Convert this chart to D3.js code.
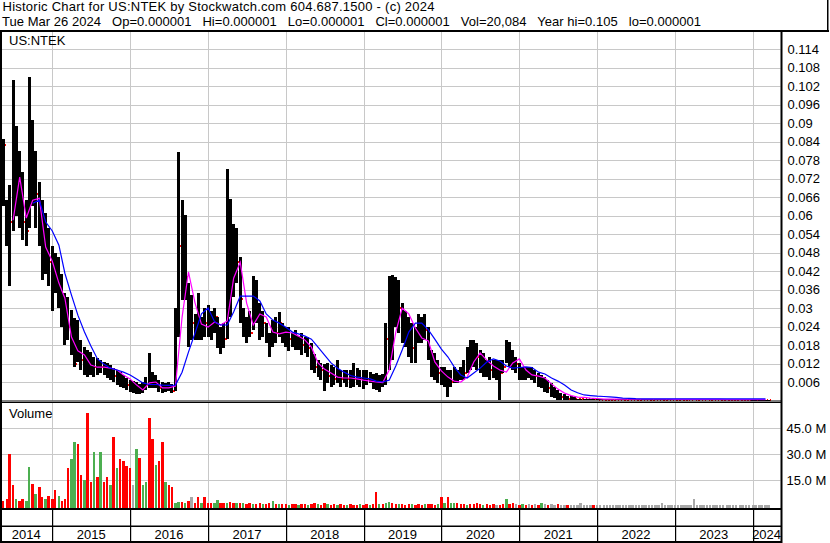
<!DOCTYPE html>
<html><head><meta charset="utf-8">
<script src="https://cdn.jsdelivr.net/npm/d3@7"></script>
<style>
body{margin:0;background:#fff}
svg{display:block}
text{font-family:Arial,"Liberation Sans",sans-serif;font-size:13px;fill:#000}
</style>
</head><body>
<svg id="chart" width="830" height="543"></svg>
<script>
// ---------- DATA (prices in thousandths of a dollar, volume in millions) ----------
const headerLine1 = "Historic Chart for US:NTEK by Stockwatch.com 604.687.1500 - (c) 2024";
const headerLine2 = "Tue Mar 26 2024   Op=0.000001   Hi=0.000001   Lo=0.000001   Cl=0.000001   Vol=20,084   Year hi=0.105   lo=0.000001";
const symbolLabel = "US:NTEK";
const volumeLabel = "Volume";

// semi-monthly bars starting 15 May 2014 (15th, 1st, 15th, ...)
const highs = [85,65,70,104,89,81,74,65,105,91,
81,71,65,61,56,50,48,46.5,41,35,
33.6,29.3,26.8,26.1,19.6,17.3,16.4,15.7,14.1,13.8,
13.1,12.5,12.2,11.5,10.5,9.9,9.2,8.3,7.3,6.6,
6.3,6.0,5.4,6.0,7.6,15.4,9.2,8.3,6.6,6.0,
5.7,6.0,5.4,30,80.6,65,60.2,38.1,34.2,28,
34.9,27,30,31,29,30,27,24,25,75,
65.3,57.3,56,46.5,30,27,29,40.4,39.1,31.6,
29,25,22,26,27,28.7,25,24,24,22,
22.9,21,22,20.6,20.6,18.6,15,13.1,12.2,12,
12.2,11.5,11,13,9.9,9.9,10,9.9,12.2,10.5,
9.9,9.9,9.9,9.2,8.6,8.9,8.3,8.6,25,40.4,
40.7,40,39,31.6,29,27,25,24,28,27,
28,24,16.4,15.4,13.1,10.9,10.9,9.9,9.9,10.9,
9.9,10.9,13.1,17.3,19.6,19.6,18.6,16.4,15.4,13.1,
14.1,13.1,13.1,13,13.1,19.6,19,16.4,14.1,12.2,
10.9,10.9,10.9,10.9,9.9,8.9,8.3,7.6,6.6,5.7,
4.4,3.4,2.4,2.0,1.6,1.3,1.0,0.6,0.6,0.6,
0.6,0.6,0.6,0.4,0.4,0.4,0.4,0.4,0.4,0.4,
0.4,0.4,0.4,0.4,0.4,0.4,0.4,0.4,0.4,0.4,
0.4,0.4,0.4,0.4,0.4,0.4,0.4,0.35,0.35,0.35,
0.35,0.35,0.35,0.35,0.35,0.35,0.35,0.35,0.35,0.35,
0.35,0.35,0.35,0.35,0.35,0.35,0.35,0.35,0.35,0.35,
0.35,0.3,0.3,0.3,0.3,0.3,0.3];

const lows = [63,50,37,55,60,56,52,50,56,63,
56,50,39,41,37,29,35,30,24,18,
19.6,14.8,10.8,12.5,9.9,8.3,7.6,8.3,7.6,8.3,
8.9,8.3,7.3,6.6,6.0,5.0,4.4,4.1,3.4,2.8,
2.4,2.1,2.1,2.4,3.4,4.1,4.1,4.1,2.8,2.4,
2.8,3.1,2.4,3,20.6,32.6,32.6,17.3,19.6,19.6,
19.6,19.6,20.6,20.6,19.6,22,17,15,17,20,
27,33.5,38,25,20.6,18.6,20.6,22.9,25.1,19.6,
20.6,18.6,14.1,17.3,18.6,20.6,18.6,17.3,16,17.3,
16.4,16.4,14.8,15.4,14.1,9.9,8.9,7.6,6.6,3,
5.7,4.4,5,5.7,4.4,5.7,4.4,4,4.4,5,
4.4,3.7,5,5.7,3.7,3.4,2.8,4.4,5,9.9,
13,24,22,18.6,17.3,14,12.2,12.2,18.6,18.6,
19.6,13.1,7.6,6.6,5.7,5,4.4,1.1,4.4,5.7,
5.7,6.6,6.6,8.9,9.9,10.9,9.9,8.9,7.6,7.6,
6.6,7.3,6.6,0.3,8.9,12.2,10.9,9.9,8.9,6.6,
6.6,6.6,7.3,6.6,5.7,4.4,4.1,2.8,2.4,1.1,
0.8,0.3,0.3,0.3,0.3,0.3,0.2,0.2,0.2,0.2,
0.2,0.2,0.2,0.15,0.15,0.15,0.15,0.15,0.15,0.15,
0.15,0.15,0.15,0.15,0.15,0.15,0.15,0.15,0.15,0.15,
0.15,0.15,0.15,0.15,0.15,0.15,0.15,0.1,0.1,0.1,
0.1,0.1,0.1,0.1,0.1,0.1,0.1,0.1,0.1,0.1,
0.1,0.1,0.1,0.1,0.1,0.1,0.1,0.1,0.1,0.1,
0.1,0.05,0.05,0.05,0.05,0.05,0.05];

const closes = [83,55,58,72,70,65,58,55,72,75,
67,57,48,50,45,40,38,36,30,24,
24,18,12,16,13,10,11,12,11,11,
11,10,10,9,8,7,6,6,5,4,
4,3,3,4,5,8,6,6,4,3,
4,4,3,25,50,55,40,28,25,24,
24,24,25,24,24,27,22,20,20,30,
45,40,45,33,24,21,22,30,30,25,
25,21,19,22,22,25,22,20,20,19,
19,18,18,18,17,12,11,10,10,8,
8,8,7,8,7,7,7,6,7,7,
7,6,7,7,6,5,5,6,20,30,
30,33,30,28,25,22,17,20,22,22,
23,16,11,10,9,7,7,5,6,8,
8,8,9,13,16,16,14,13,12,11,
10,9,10,9,11,16,15,13,12,10,
9,9,9,9,8,7,6,5,4,3,
2,1,1,0.8,0.6,0.5,0.4,0.4,0.4,0.4,
0.4,0.4,0.4,0.3,0.3,0.3,0.3,0.3,0.3,0.3,
0.3,0.3,0.3,0.3,0.3,0.3,0.3,0.3,0.3,0.3,
0.3,0.3,0.3,0.3,0.3,0.3,0.3,0.25,0.25,0.25,
0.25,0.25,0.25,0.25,0.25,0.25,0.25,0.25,0.25,0.25,
0.25,0.25,0.25,0.25,0.25,0.25,0.25,0.25,0.25,0.25,
0.25,0.2,0.2,0.2,0.2,0.2,0.2];

const volumes = [3,4,30,12,4,3,4,3,22.6,13,
7,11,5,4,6,4,9,6,3,4,
22,27,37,36,18,15,54,14,31,17,
31,14,17,12,40,22,27,26,23,22,
12,33,28,12,14,51,39,24,26,37,
14,12,11,2,2.5,2.5,2,3,5.5,2,
5,2,5.5,1.5,2,1.5,3.5,1.5,2,2,
2.5,2,1.5,2,1.5,1.2,1.5,1.2,1,1.5,
1.2,1,1.5,2.7,1.2,1,1.2,1,0.8,1,
1.2,0.8,1,1.2,0.8,1,1.5,1,0.8,2,
1,0.8,1,0.8,1,0.8,0.8,1,0.8,0.8,
1,0.8,1,0.8,1,8.3,1,1.2,1.5,2.5,
1.5,1,1.2,1,0.8,1,1.2,0.8,1,0.8,
1,1.2,1,0.8,1.2,5.4,1.5,5,2,2,
1.5,1,1,0.8,1.2,1,1.5,1,0.8,1,
0.8,1,0.8,0.8,1,4,1,1.5,1,0.8,
1,0.8,1,0.8,1.2,0.8,2,1,0.8,1,
0.8,1,0.8,0.6,0.8,0.6,0.8,0.6,1.5,0.6,
0.5,0.6,0.5,0.6,0.5,0.6,0.5,0.6,0.5,0.6,
0.5,0.6,0.5,0.6,0.5,0.6,0.5,0.6,0.5,0.6,
0.5,0.6,0.5,1.5,0.5,0.6,0.5,0.6,0.5,0.6,
0.5,0.6,0.5,4,0.5,0.6,0.5,0.6,0.5,0.6,
0.5,0.6,0.5,0.6,0.5,0.6,0.5,0.6,0.5,0.6,
0.5,0.6,0.5,0.6,0.5,0.6,0.5];

// r = down (red), g = up (green), n = unchanged (grey)
const volumeDirections = ("rrrrgrrggr"+"grrgrrrgrr"+"rggrrgrrgr"+"grrgrgrrrr"+"ngrggrrgrr"+
"grrggrgrnr"+"rgrrrggrrg"+"rrgrgrrgrr"+"grrgrgrrgr"+"rgrrgrrgrr"+
"grrgrrgrrr"+"grrgrrgrgg"+"rrgrrrgrrr"+"grrrgrgrgg"+"rrrgrrrrgr"+
"rrnrrgrrnr"+"grnrnrgnrn"+"nrnnrnnnnn"+"nnrnnnnnnn"+"nnnnnnnnnn"+
"nnnnnnnnnn"+"nnnnnnnnnn"+"nnnnnnnnnn"+"nnnnnnn").split("");

// moving averages, monthly points starting 1 Jun 2014
const maShort = [null,58.5,72.5,59.2,65.0,65.6,49.8,45.2,38.1,33.2,
20.6,16.1,14.8,11.5,10.8,10.8,10.5,9.9,8.3,7.0,
5.0,3.4,5.7,6.0,4.1,4.1,4.7,27,41.7,31.6,
24.8,23.8,25.5,24.5,25.8,39.7,44.9,31.6,24.5,28.1,
27.1,22.2,21.6,22.2,21.9,20.9,19.6,17.3,12.2,10.2,
8.9,7.6,7.3,7.3,7.0,6.6,6.3,6.0,5.8,9.9,
22.2,30.0,28.1,23.5,20.3,19.3,12.5,9.6,7.6,6.3,
6.0,7.6,12.5,15.4,13.1,11.2,9.9,9.2,12.2,13.5,
9.9,8.3,7.9,7.3,5.4,3.7,2.4,1.6,1.1,1.0,
0.8,0.65,0.45,0.45,0.45,0.45,0.4,0.4,0.4,0.4,
0.4,0.4,0.4,0.35,0.35,0.35,0.35,0.35,0.35,0.35,
0.35,0.3,0.3,0.3,0.3,0.3,0.3,0.3];

const maLong = [null,null,null,null,64.0,65,57.9,55.0,50.4,41.3,
34.2,27.7,22.2,17.7,13.5,11.8,10.5,9.9,9.2,8.3,
7.0,5.7,5.2,5.2,5.0,4.9,5.0,9.2,15.7,21.9,
28.1,30.0,25.5,24.5,24.5,28.7,33.9,33.9,33.9,32.3,
28.1,26.1,25.1,23.8,22.2,21.6,20.9,19.9,17.3,14.8,
12.2,10.5,9.2,8.1,7.6,7.3,7.0,6.3,6.0,6.6,
11.2,16.4,22.2,25.1,25.1,22.9,19.9,16.7,14.1,10.9,
8.3,7.3,8.9,10.5,12.5,13.5,12.8,11.2,10.5,10.7,
10.9,10.7,9.2,8.6,7.3,6.3,5.0,3.4,2.5,1.8,
1.6,1.4,1.3,1.2,1.0,0.8,0.7,0.6,0.55,0.5,
0.5,0.5,0.5,0.5,0.5,0.5,0.5,0.5,0.5,0.5,
0.5,0.5,0.5,0.5,0.5,0.5,0.5,0.5];

const priceTickValues = [6,12,18,24,30,36,42,48,54,60,66,72,78,84,90,96,102,108,114];
const priceTickLabels = ["0.006","0.012","0.018","0.024","0.03","0.036","0.042","0.048","0.054","0.06","0.066","0.072","0.078","0.084","0.09","0.096","0.102","0.108","0.114"];
const volumeTickValues = [15,30,45];
const volumeTickLabels = ["15.0 M","30.0 M","45.0 M"];
const yearLabels = ["2014","2015","2016","2017","2018","2019","2020","2021","2022","2023","2024"];

// ---------- LAYOUT ----------
const W = 830, H = 543;
const plotL = 2, plotR = 780.5;
const priceTop = 32, priceZero = 400.5;
const volTop = 403, volBottom = 508;

const priceDates = highs.map((_, i) => i % 2 === 0 ? new Date(2014, 4 + i / 2, 15) : new Date(2014, 4 + (i + 1) / 2, 1));
const maDates = maShort.map((_, m) => new Date(2014, 5 + m, 1));
const yearStarts = yearLabels.map(y => new Date(+y, 0, 1));

const x = d3.scaleTime().domain([new Date(2015, 0, 1), new Date(2024, 0, 1)]).range([52.3, 752.7]);
const yP = d3.scaleLinear().domain([0, 114]).range([priceZero, 49.2]);
const yV = d3.scaleLinear().domain([0, 15]).range([506, 480.1]);

const svg = d3.select("#chart");
svg.append("rect").attr("width", W).attr("height", H).attr("fill", "#fff");

const grid = "#c8c8c8";
svg.append("g").selectAll("line").data(priceTickValues).join("line")
  .attr("x1", plotL).attr("x2", plotR).attr("y1", d => Math.round(yP(d)) + 0.5).attr("y2", d => Math.round(yP(d)) + 0.5)
  .attr("stroke", grid).attr("stroke-width", 1);
svg.append("g").selectAll("line").data(volumeTickValues).join("line")
  .attr("x1", plotL).attr("x2", plotR).attr("y1", d => Math.round(yV(d)) + 0.5).attr("y2", d => Math.round(yV(d)) + 0.5)
  .attr("stroke", grid).attr("stroke-width", 1);
const vYears = yearStarts.slice(1);
svg.append("g").selectAll("line").data(vYears).join("line")
  .attr("x1", d => Math.round(x(d)) + 0.5).attr("x2", d => Math.round(x(d)) + 0.5)
  .attr("y1", priceTop).attr("y2", priceZero).attr("stroke", grid);
svg.append("g").selectAll("line").data(vYears).join("line")
  .attr("x1", d => Math.round(x(d)) + 0.5).attr("x2", d => Math.round(x(d)) + 0.5)
  .attr("y1", volTop).attr("y2", volBottom).attr("stroke", grid);

svg.append("text").attr("x", 9).attr("y", 45).text(symbolLabel);
svg.append("text").attr("x", 9).attr("y", 418).text(volumeLabel);

// price bars (red close marks sit beneath the following bar)
const bars = priceDates.map((d, i) => ({d, hi: highs[i], lo: lows[i], cl: closes[i]}));
const gTicks = svg.append("g").attr("shape-rendering", "crispEdges");
gTicks.selectAll("rect").data(bars).join("rect")
  .attr("x", b => x(b.d) + 1.4).attr("y", b => yP(b.cl) - 1).attr("width", 1.6).attr("height", 2).attr("fill", "#ff0000");
const gBars = svg.append("g").attr("shape-rendering", "crispEdges");
gBars.selectAll("rect").data(bars).join("rect")
  .attr("x", b => x(b.d) - 1.5).attr("y", b => yP(b.hi)).attr("width", 3.0)
  .attr("height", b => Math.max(1, yP(b.lo) - yP(b.hi))).attr("fill", "#000");

// moving averages
const maLine = d3.line().defined(d => d.v != null).x(d => x(d.d)).y(d => yP(d.v));
svg.append("path").datum(maDates.map((d, m) => ({d, v: maShort[m]})))
  .attr("d", maLine).attr("fill", "none").attr("stroke", "#ff00ff").attr("stroke-width", 1.2);
svg.append("path").datum(maDates.map((d, m) => ({d, v: maLong[m]})))
  .attr("d", maLine).attr("fill", "none").attr("stroke", "#0000ff").attr("stroke-width", 1.2);

// volume bars
const volColor = {r: "#ff0000", g: "#4caf50", n: "#a8a8a8"};
svg.append("g").attr("shape-rendering", "crispEdges").selectAll("rect").data(priceDates).join("rect")
  .attr("x", (d) => x(d) - 1.2).attr("width", 2.4)
  .attr("y", (d, i) => yV(volumes[i])).attr("height", (d, i) => volBottom - yV(volumes[i]))
  .attr("fill", (d, i) => volColor[volumeDirections[i]]);

// right-side axis labels
const axP = svg.append("g").attr("transform", `translate(${plotR},0)`)
  .call(d3.axisRight(yP).tickValues(priceTickValues).tickSize(0).tickPadding(7).tickFormat((d, i) => priceTickLabels[i]));
axP.select(".domain").remove();
const axV = svg.append("g").attr("transform", `translate(${plotR},0)`)
  .call(d3.axisRight(yV).tickValues(volumeTickValues).tickSize(0).tickPadding(6).tickFormat((d, i) => volumeTickLabels[i]));
axV.select(".domain").remove();
svg.selectAll(".tick text").attr("font-size", 13).attr("font-family", "Arial, 'Liberation Sans', sans-serif").attr("fill", "#000");

// frame
const blk = "#000";
function hl(y, x1, x2, w) { svg.append("rect").attr("x", x1).attr("y", y).attr("width", x2 - x1).attr("height", w).attr("fill", blk); }
function vl(xp, y1, y2, w) { svg.append("rect").attr("x", xp).attr("y", y1).attr("width", w).attr("height", y2 - y1).attr("fill", blk); }
hl(30, 0, 829, 2);
vl(827, 0, 31, 1.5);
vl(0, 30, 543, 2);
vl(780.5, 30, 543, 2);
hl(400.5, 0, 782, 1);
hl(402, 0, 782, 1);
hl(508, 0, 782, 2);
hl(525.5, 0, 782, 1.5);
hl(541, 0, 782, 2);
svg.append("g").selectAll("rect").data(vYears).join("rect")
  .attr("x", d => Math.round(x(d))).attr("y", 509).attr("width", 1.2).attr("height", 33).attr("fill", blk);

const bounds = [plotL - 2].concat(vYears.map(d => x(d))).concat([plotR]);
svg.append("g").selectAll("text").data(yearLabels).join("text")
  .attr("x", (d, i) => (bounds[i] + bounds[i + 1]) / 2).attr("y", 539)
  .attr("text-anchor", "middle").text(d => d);

// header
svg.append("text").attr("x", 2.5).attr("y", 10.5).attr("textLength", 432).attr("lengthAdjust", "spacing").text(headerLine1);
svg.append("text").attr("x", 2).attr("y", 26).style("white-space", "pre").attr("textLength", 699).attr("lengthAdjust", "spacing").text(headerLine2);
</script>
</body></html>
